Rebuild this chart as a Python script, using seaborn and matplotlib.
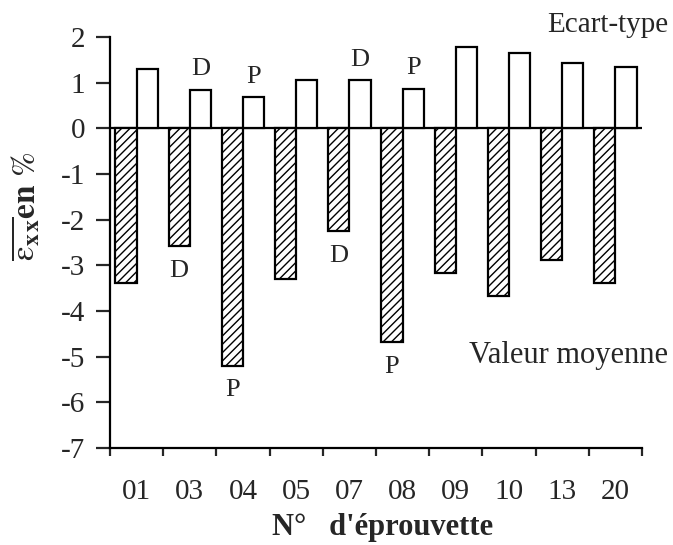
import pandas as pd
import numpy as np
import matplotlib
matplotlib.use("Agg")
import matplotlib.pyplot as plt
import seaborn as sns

# data
eprouvettes = ["01", "03", "04", "05", "07", "08", "09", "10", "13", "20"]
moyenne = [-3.38, -2.58, -5.2, -3.3, -2.25, -4.68, -3.17, -3.68, -2.88, -3.38]
ecart_type = [1.31, 0.85, 0.68, 1.05, 1.05, 0.87, 1.79, 1.64, 1.42, 1.35]
marques = {"03": "D", "04": "P", "07": "D", "08": "P"}

df = pd.DataFrame({
    "eprouvette": eprouvettes * 2,
    "serie": ["moyenne"] * len(eprouvettes) + ["ecart"] * len(eprouvettes),
    "valeur": moyenne + ecart_type,
})

sns.set_style("white")
plt.rcParams["font.family"] = ["Liberation Serif", "DejaVu Serif"]
plt.rcParams["mathtext.fontset"] = "stix"
plt.rcParams["axes.unicode_minus"] = False
plt.rcParams["hatch.linewidth"] = 1.0

fig = plt.figure(figsize=(6.73, 5.45), dpi=100)
ax = fig.add_axes([110 / 673, 97 / 545, 532 / 673, 411 / 545])

sns.barplot(data=df, x="eprouvette", y="valeur", hue="serie",
            hue_order=["moyenne", "ecart"], order=eprouvettes,
            palette=["white", "white"], edgecolor="black", linewidth=1.6,
            errorbar=None, legend=False, ax=ax, width=0.8)

for bar in ax.containers[0]:
    bar.set_hatch("////")

ax.axhline(0, color="black", lw=1.6, zorder=0.5)

# D / P marks
for i, e in enumerate(eprouvettes):
    if e in marques:
        ax.text(i + 0.2, ecart_type[i] + 0.2, marques[e], ha="center", va="bottom", fontsize=19)
        ax.text(i - 0.2, moyenne[i] - 0.3, marques[e], ha="center", va="top", fontsize=19)

ax.set_xlim(-0.5, len(eprouvettes) - 0.5)
ax.set_ylim(-7, 2)
ax.set_yticks(range(-7, 3))
ax.set_xticks(np.arange(-0.5, len(eprouvettes)), minor=True)
ax.tick_params(axis="x", which="major", length=0, labelsize=21, pad=22)
ax.tick_params(axis="x", which="minor", length=6, width=1.6, direction="out", bottom=True)
ax.tick_params(axis="y", length=10, width=1.6, direction="out", left=True, labelsize=21, pad=8)

for s in ["top", "right"]:
    ax.spines[s].set_visible(False)
for s in ["left", "bottom"]:
    ax.spines[s].set_linewidth(1.6)
    ax.spines[s].set_color("black")

ax.set_xlabel("")
ax.set_ylabel("")
fig.text(383 / 673, 1 - 528 / 545, "N°   d'éprouvette", ha="center", va="center",
         fontsize=22, fontweight="bold")
fig.text(27 / 673, 1 - 206 / 545, r"$\overline{\mathrm{\varepsilon}_{\mathbf{x\,x}}}\mathbf{en}\ \%$",
         rotation=90, ha="center", va="center", fontsize=24)

fig.text(668 / 673, 1 - 25 / 545, "Ecart-type", ha="right", va="center", fontsize=21)
fig.text(668 / 673, 1 - 355 / 545, "Valeur moyenne", ha="right", va="center", fontsize=22)

fig.savefig("out.png", dpi=100)
